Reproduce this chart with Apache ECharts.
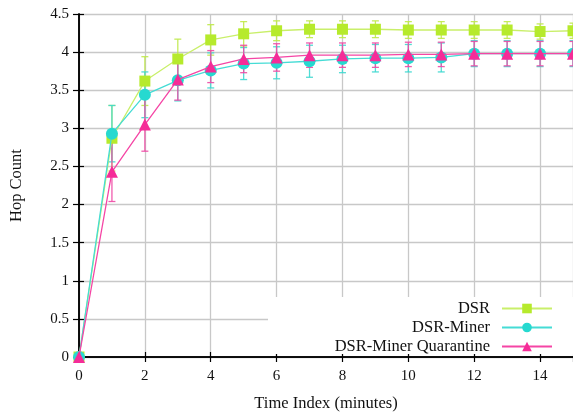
<!DOCTYPE html>
<html>
<head>
<meta charset="utf-8">
<script src="https://cdn.jsdelivr.net/npm/echarts@6/dist/echarts.min.js"></script>
<style>html,body{margin:0;padding:0;background:#fff;}#c{width:573px;height:417px;}</style>
</head>
<body>
<div id="c"></div>
<script>
const timeIndex = [0, 1, 2, 3, 4, 5, 6, 7, 8, 9, 10, 11, 12, 13, 14, 15];
const dsr      = [0, 2.87, 3.62, 3.91, 4.16, 4.24, 4.28, 4.30, 4.30, 4.30, 4.29, 4.29, 4.29, 4.29, 4.27, 4.28];
const dsrErr   = [0, 0.43, 0.32, 0.26, 0.20, 0.16, 0.13, 0.11, 0.11, 0.11, 0.11, 0.11, 0.11, 0.11, 0.10, 0.10];
const miner    = [0, 2.93, 3.44, 3.63, 3.76, 3.85, 3.86, 3.88, 3.91, 3.92, 3.92, 3.93, 3.98, 3.98, 3.98, 3.98];
const minerErr = [0, 0.37, 0.30, 0.27, 0.23, 0.21, 0.21, 0.21, 0.18, 0.18, 0.18, 0.19, 0.17, 0.17, 0.17, 0.17];
const quar     = [0, 2.43, 3.05, 3.64, 3.81, 3.91, 3.93, 3.96, 3.96, 3.96, 3.97, 3.97, 3.98, 3.98, 3.98, 3.98];
const quarErr  = [0, 0.39, 0.35, 0.27, 0.21, 0.18, 0.18, 0.16, 0.16, 0.16, 0.16, 0.16, 0.16, 0.16, 0.16, 0.16];
const seriesNames = ['DSR', 'DSR-Miner', 'DSR-Miner Quarantine'];
const xTickInterval = 2;
const yTickInterval = 0.5;

const FONT = 'Liberation Serif';
const colors = {
  dsr:  {marker: '#b6ea2c', line: '#c9ef6a', err: '#bfe94a'},
  miner:{marker: '#26d9d0', line: '#45dcd5', err: '#3fd8d0'},
  quar: {marker: '#f52c98', line: '#f545a5', err: '#ee4aa5'}
};

function errData(vals, errs) {
  return timeIndex.map((x, i) => [x, vals[i] - errs[i], vals[i] + errs[i]]);
}
function lineData(vals) {
  return timeIndex.map((x, i) => [x, vals[i]]);
}
function errRender(color) {
  return function (params, api) {
    const x = api.value(0), lo = api.value(1), hi = api.value(2);
    if (hi - lo <= 0) return null;
    const p1 = api.coord([x, hi]);
    const p2 = api.coord([x, lo]);
    const w = 3.5;
    const st = {stroke: color, lineWidth: 1.3, opacity: 0.9};
    return {type: 'group', children: [
      {type: 'line', shape: {x1: p1[0], y1: p1[1], x2: p2[0], y2: p2[1]}, style: st},
      {type: 'line', shape: {x1: p1[0] - w, y1: p1[1], x2: p1[0] + w, y2: p1[1]}, style: st},
      {type: 'line', shape: {x1: p2[0] - w, y1: p2[1], x2: p2[0] + w, y2: p2[1]}, style: st}
    ]};
  };
}

const chart = echarts.init(document.getElementById('c'), null, {renderer: 'canvas'});
const axisLineStyle = {color: '#000', width: 1.5};
chart.setOption({
  animation: false,
  backgroundColor: '#fff',
  textStyle: {fontFamily: FONT},
  grid: {left: 79, top: 14, width: 495, height: 346, containLabel: false},
  xAxis: [{
    type: 'value', min: 0, max: 15, interval: xTickInterval,
    name: 'Time Index (minutes)', nameLocation: 'middle', nameGap: 38,
    nameTextStyle: {fontFamily: FONT, fontSize: 16.5, color: '#111'},
    axisLine: {show: true, onZero: false, lineStyle: axisLineStyle},
    axisTick: {show: true, inside: true, length: 5, lineStyle: {color: '#000', width: 1.2}},
    axisLabel: {fontFamily: FONT, fontSize: 15, color: '#111', margin: 12, showMaxLabel: false},
    splitLine: {show: true, lineStyle: {color: '#c8c8c8', width: 1.3}}
  }, {
    type: 'value', min: 0, max: 15, interval: xTickInterval, position: 'top',
    axisLine: {show: true, lineStyle: axisLineStyle},
    axisTick: {show: true, inside: true, length: 5, lineStyle: {color: '#000', width: 1.2}},
    axisLabel: {show: false}, splitLine: {show: false}
  }],
  yAxis: [{
    type: 'value', min: 0, max: 4.5, interval: yTickInterval,
    name: 'Hop Count', nameLocation: 'middle', nameGap: 54, nameRotate: 90,
    nameTextStyle: {fontFamily: FONT, fontSize: 16.5, color: '#111'},
    axisLine: {show: true, onZero: false, lineStyle: axisLineStyle},
    axisTick: {show: true, inside: true, length: 5, lineStyle: {color: '#000', width: 1.2}},
    axisLabel: {fontFamily: FONT, fontSize: 15, color: '#111', margin: 10},
    splitLine: {show: true, lineStyle: {color: '#c8c8c8', width: 1.3}}
  }, {
    type: 'value', min: 0, max: 4.5, interval: yTickInterval, position: 'right',
    axisLine: {show: true, lineStyle: axisLineStyle},
    axisTick: {show: true, inside: true, length: 6, lineStyle: {color: '#000', width: 1.2}},
    axisLabel: {show: false}, splitLine: {show: false}
  }],
  legend: {
    data: seriesNames,
    orient: 'vertical', align: 'right',
    right: 20, top: 299,
    itemWidth: 50, itemHeight: 12, itemGap: 0,
    padding: 0,
    textStyle: {fontFamily: FONT, fontSize: 16.5, color: '#111', lineHeight: 19, padding: [0, 7, 0, 0]}
  },
  graphic: {elements: [{
    type: 'rect', z: 1, silent: true,
    shape: {x: 268, y: 297, width: 306, height: 57},
    style: {fill: '#fff'}
  }]},
  series: [
    {name: 'DSR err', type: 'custom', renderItem: errRender(colors.dsr.err), data: errData(dsr, dsrErr), z: 3, encode: {x: 0, y: [1, 2]}},
    {name: 'DSR-Miner err', type: 'custom', renderItem: errRender(colors.miner.err), data: errData(miner, minerErr), z: 3, encode: {x: 0, y: [1, 2]}},
    {name: 'DSR-Miner Quarantine err', type: 'custom', renderItem: errRender(colors.quar.err), data: errData(quar, quarErr), z: 3, encode: {x: 0, y: [1, 2]}},
    {name: 'DSR', type: 'line', data: lineData(dsr), symbol: 'rect', symbolSize: 11, z: 4,
      itemStyle: {color: colors.dsr.marker}, lineStyle: {color: colors.dsr.line, width: 1.3}},
    {name: 'DSR-Miner', type: 'line', data: lineData(miner), symbol: 'circle', symbolSize: 12, z: 5,
      itemStyle: {color: colors.miner.marker}, lineStyle: {color: colors.miner.line, width: 1.3}},
    {name: 'DSR-Miner Quarantine', type: 'line', data: lineData(quar), symbol: 'triangle', symbolSize: 12, z: 6,
      itemStyle: {color: colors.quar.marker}, lineStyle: {color: colors.quar.line, width: 1.3}}
  ]
});
</script>
</body>
</html>
